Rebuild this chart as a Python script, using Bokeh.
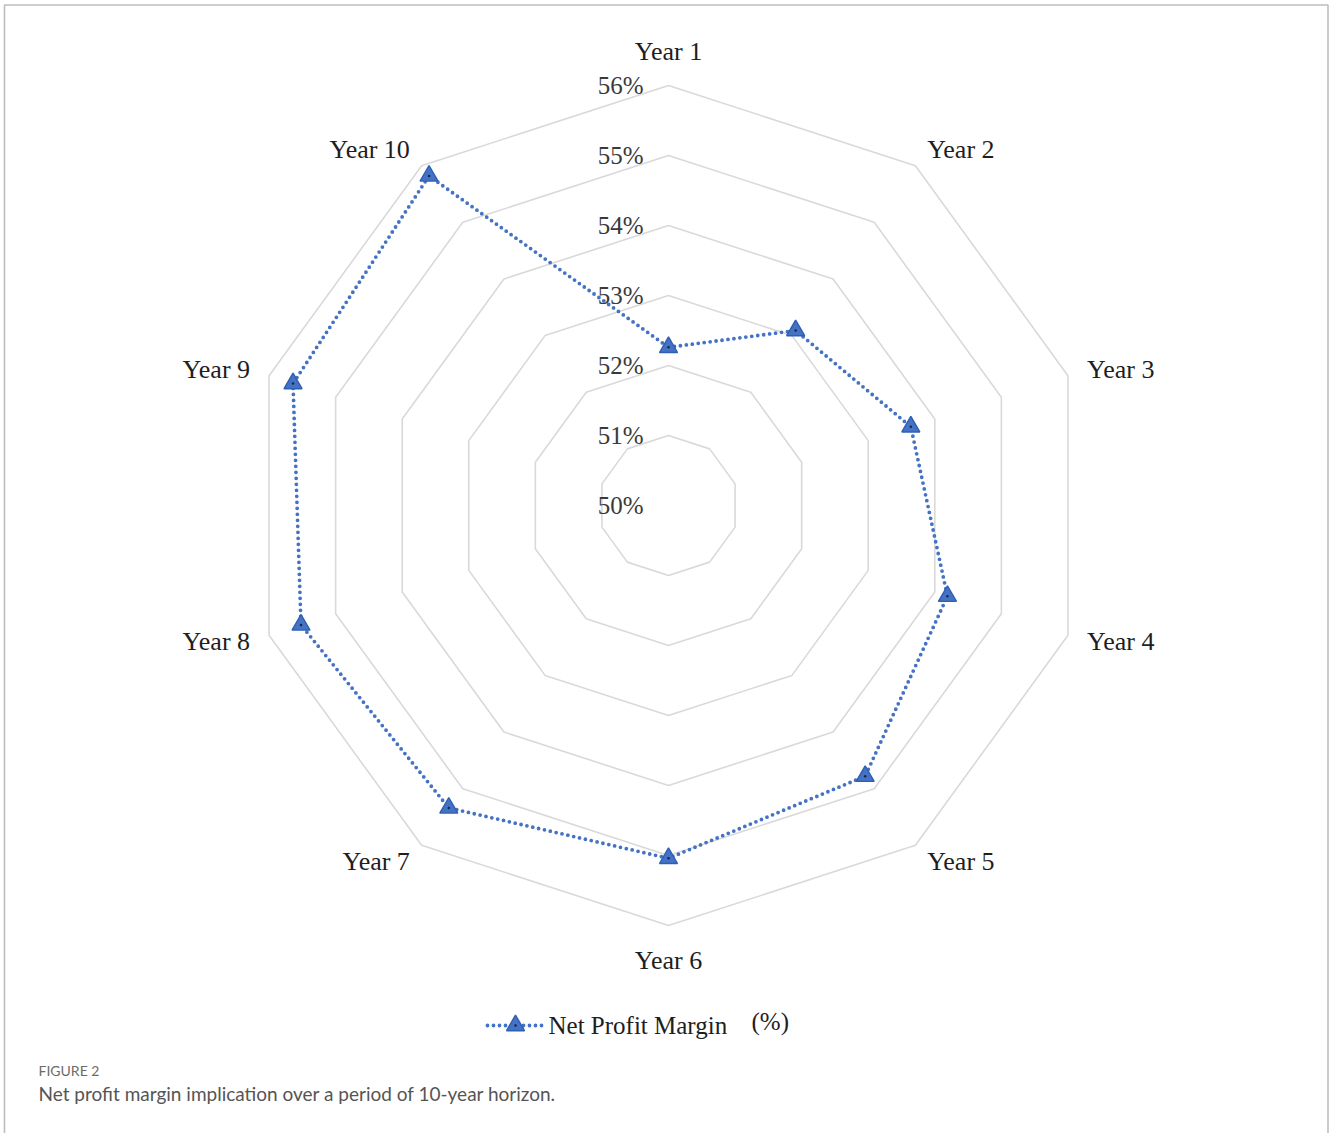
import math

from bokeh.core.properties import value
from bokeh.embed import file_html
from bokeh.models import Range1d
from bokeh.plotting import figure
from bokeh.resources import INLINE

# ---- data -------------------------------------------------------------
years = ["Year 1", "Year 2", "Year 3", "Year 4", "Year 5",
         "Year 6", "Year 7", "Year 8", "Year 9", "Year 10"]
net_profit_margin = [52.26, 53.09, 53.64, 54.19, 54.78,
                     55.04, 55.34, 55.52, 55.64, 55.82]
ring_values = [51, 52, 53, 54, 55, 56]
ring_labels = ["50%", "51%", "52%", "53%", "54%", "55%", "56%"]
series_name = "Net Profit Margin"
series_unit = "(%)"
figure_tag = "FIGURE 2"
caption = "Net profit margin implication over a period of 10-year horizon."

# ---- layout constants -------------------------------------------------
W, H = 1330, 1133
CX, CY = 668, 505            # centre of the radar, in page pixels
AXIS_MIN, AXIS_MAX = 50, 56
PX_PER_UNIT = 70             # radius per 1 percentage point

SERIES_BLUE = "#4472C4"
GRID_GREY = "#d9d9d9"
SERIF = value("Liberation Serif")

n = len(years)
angles = [2 * math.pi * i / n for i in range(n)]   # clockwise from top


def radius(v):
    return (v - AXIS_MIN) * PX_PER_UNIT


def polar(r, a):
    return r * math.sin(a), r * math.cos(a)


p = figure(width=W, height=H, output_backend="svg", toolbar_location=None,
           x_range=Range1d(-CX, W - CX), y_range=Range1d(CY - H, CY),
           min_border=0, outline_line_color=None,
           background_fill_color="white", border_fill_color="white")
p.axis.visible = False
p.grid.visible = False

# page frame (bottom edge runs off the page)
p.line([-CX + 4, -CX + 4, W - CX - 2.5, W - CX - 2.5],
       [CY - H - 50, CY - 4.5, CY - 4.5, CY - H - 50],
       line_color="#bdbdbd", line_width=1.6)

# ---- concentric decagon grid -----------------------------------------
ring_xs, ring_ys = [], []
for v in ring_values:
    pts = [polar(radius(v), a) for a in angles]
    ring_xs.append([q[0] for q in pts] + [pts[0][0]])
    ring_ys.append([q[1] for q in pts] + [pts[0][1]])
p.multi_line(ring_xs, ring_ys, line_color=GRID_GREY, line_width=1.6)

# radial value labels
p.text(x=[-25] * len(ring_labels),
       y=[radius(AXIS_MIN + i) for i in range(len(ring_labels))],
       text=ring_labels, text_font=SERIF, text_font_size="25px",
       text_color="#3a3a3a", text_align="right", text_baseline="middle")

# category labels round the outside
lab_r = radius(AXIS_MAX) + 20
for name, a in zip(years, angles):
    lx, ly = polar(lab_r, a)
    s, c = math.sin(a), math.cos(a)
    if abs(s) < 1e-6:
        align = "center"
        base = "bottom" if c > 0 else "top"
    else:
        align = "left" if s > 0 else "right"
        base = "middle"
    p.text(x=[lx], y=[ly], text=[name], text_font=SERIF,
           text_font_size="26px", text_color="#1e1e1e",
           text_align=align, text_baseline=base)

# ---- series ------------------------------------------------------------
pts = [polar(radius(v), a) for v, a in zip(net_profit_margin, angles)]
sx = [q[0] for q in pts]
sy = [q[1] for q in pts]
p.line(sx + [sx[0]], sy + [sy[0]], line_color=SERIES_BLUE, line_width=3.8,
       line_dash="0 6", line_cap="round")
p.scatter(sx, sy, marker="triangle", size=18, fill_color=SERIES_BLUE,
          line_color="#2f5fb3", line_width=1.4)
p.scatter(sx, sy, marker="circle", size=2.5, fill_color="#14284b",
          line_color=None)

# ---- legend ------------------------------------------------------------
leg_y = CY - 1025
p.line([487 - CX, 545 - CX], [leg_y, leg_y], line_color=SERIES_BLUE,
       line_width=3.8, line_dash="0 6", line_cap="round")
p.scatter([515 - CX], [leg_y], marker="triangle", size=18,
          fill_color=SERIES_BLUE, line_color="#2f5fb3", line_width=1.4)
p.scatter([515 - CX], [leg_y], marker="circle", size=2.5,
          fill_color="#14284b", line_color=None)
p.text(x=[548 - CX], y=[leg_y], text=[series_name], text_font=SERIF,
       text_font_size="25px", text_color="#1e1e1e",
       text_align="left", text_baseline="middle")
p.text(x=[751 - CX], y=[CY - 1021], text=[series_unit], text_font=SERIF,
       text_font_size="25px", text_color="#1e1e1e",
       text_align="left", text_baseline="middle")

# ---- caption -----------------------------------------------------------
p.text(x=[38 - CX], y=[CY - 1070], text=[figure_tag], text_font=value("Lato"),
       text_font_size="14px", text_color="#6b6b6b",
       text_align="left", text_baseline="middle")
p.text(x=[38 - CX], y=[CY - 1093], text=[caption], text_font=value("Lato"),
       text_font_size="19px", text_color="#555555",
       text_align="left", text_baseline="middle")

open("out.html", "w").write(file_html(p, INLINE))
